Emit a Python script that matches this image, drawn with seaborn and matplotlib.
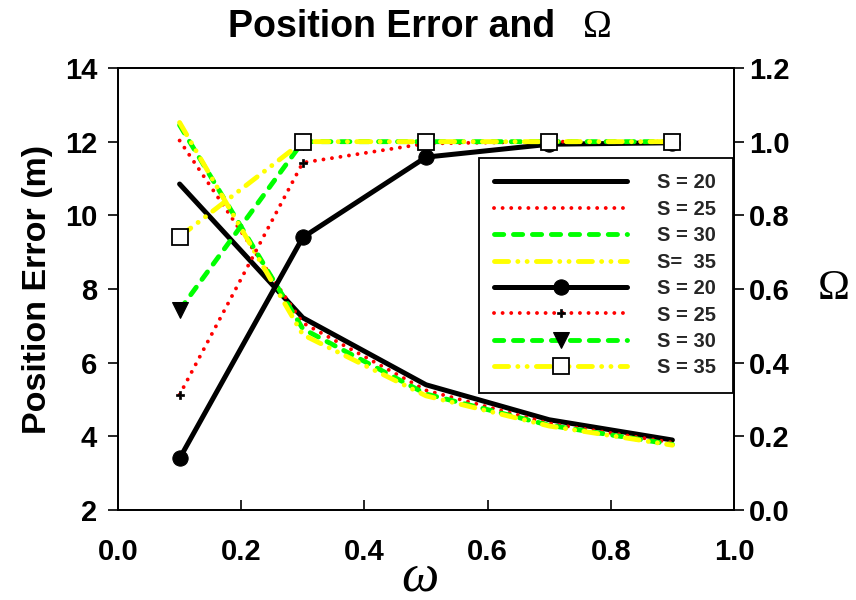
import matplotlib
matplotlib.use("Agg")
import matplotlib.pyplot as plt
import seaborn as sns
import numpy as np

# ---------------- data ----------------
omega = [0.1, 0.3, 0.5, 0.7, 0.9]

# Position error (left axis, m)
pe_s20 = [10.85, 7.22, 5.40, 4.45, 3.90]
pe_s25 = [12.03, 7.08, 5.25, 4.35, 3.83]
pe_s30 = [12.45, 6.92, 5.15, 4.30, 3.78]
pe_s35 = [12.52, 6.76, 5.10, 4.28, 3.76]

# Omega (right axis)
om_s20 = [0.14, 0.74, 0.958, 0.993, 0.997]
om_s25 = [0.313, 0.943, 0.995, 1.0, 1.0]
om_s30 = [0.543, 1.0, 1.0, 1.0, 1.0]
om_s35 = [0.742, 1.0, 1.0, 1.0, 1.0]

legend_labels = ["S = 20", "S = 25", "S = 30", "S=  35",
                 "S = 20", "S = 25", "S = 30", "S = 35"]

x_ticks = [0.0, 0.2, 0.4, 0.6, 0.8, 1.0]
x_ticklabels = ["0.0", "0.2", "0.4", "0.6", "0.8", "1.0"]
left_ticks = [2, 4, 6, 8, 10, 12, 14]
left_ticklabels = ["2", "4", "6", "8", "10", "12", "14"]
right_ticks = [0.0, 0.2, 0.4, 0.6, 0.8, 1.0, 1.2]
right_ticklabels = ["0.0", "0.2", "0.4", "0.6", "0.8", "1.0", "1.2"]

title_main = "Position Error and"
title_symbol = "Ω"
ylabel_left = "Position Error (m)"
ylabel_right = "Ω"
xlabel_text = "ω"

# ---------------- style ----------------
sns.set_theme(style="white")
plt.rcParams["font.family"] = ["Liberation Sans", "DejaVu Sans"]
plt.rcParams["font.weight"] = "bold"

RED = "#FF0000"
GREEN = "#00FF00"
YELLOW = "#FFFF00"
BLACK = "#000000"

fig = plt.figure(figsize=(8.56, 6.0), dpi=100)
ax = fig.add_axes([118 / 856, 90 / 600, 616 / 856, 442 / 600])
ax2 = ax.twinx()

ls_solid = "-"
ls_dot = (0, (0.01, 2.2))
ls_dash = (0, (1.9, 2.0))
ls_dashdotdot = (0, (2.9, 1.9, 0.01, 1.9, 0.01, 1.9))

common = dict(errorbar=None, legend=False, sort=False)

# left-axis curves
sns.lineplot(x=omega, y=pe_s20, ax=ax, color=BLACK, linewidth=3.6,
             linestyle=ls_solid, solid_capstyle="round", **common)
sns.lineplot(x=omega, y=pe_s25, ax=ax, color=RED, linewidth=2.8,
             linestyle=ls_dot, dash_capstyle="round", **common)
sns.lineplot(x=omega, y=pe_s30, ax=ax, color=GREEN, linewidth=3.5,
             linestyle=ls_dash, dash_capstyle="round", **common)
sns.lineplot(x=omega, y=pe_s35, ax=ax, color=YELLOW, linewidth=3.5,
             linestyle=ls_dashdotdot, dash_capstyle="round", **common)

# right-axis curves
sns.lineplot(x=omega, y=om_s20, ax=ax2, color=BLACK, linewidth=3.6,
             linestyle=ls_solid, solid_capstyle="round",
             marker="o", markersize=11, markerfacecolor=BLACK,
             markeredgecolor=BLACK, **common)
sns.lineplot(x=omega, y=om_s25, ax=ax2, color=RED, linewidth=2.8,
             linestyle=ls_dot, dash_capstyle="round",
             marker="P", markersize=6, markerfacecolor=BLACK,
             markeredgecolor=BLACK, markeredgewidth=0.5, **common)
sns.lineplot(x=omega, y=om_s30, ax=ax2, color=GREEN, linewidth=3.5,
             linestyle=ls_dash, dash_capstyle="round",
             marker="v", markersize=12, markerfacecolor=BLACK,
             markeredgecolor=BLACK, **common)
sns.lineplot(x=omega, y=om_s35, ax=ax2, color=YELLOW, linewidth=3.5,
             linestyle=ls_dashdotdot, dash_capstyle="round",
             marker="s", markersize=11, markerfacecolor="white",
             markeredgecolor=BLACK, markeredgewidth=1.3, **common)

# ---------------- axes ----------------
ax.set_xlim(0, 1.0)
ax.set_ylim(2, 14)
ax2.set_ylim(0, 1.2)

ax.set_xticks(x_ticks)
ax.set_xticklabels(x_ticklabels, fontsize=21, fontweight="bold")
ax.set_yticks(left_ticks)
ax.set_yticklabels(left_ticklabels, fontsize=21, fontweight="bold")
ax2.set_yticks(right_ticks)
ax2.set_yticklabels(right_ticklabels, fontsize=21, fontweight="bold")

ax.tick_params(axis="x", direction="in", length=7, width=1.2, pad=20,
               colors=BLACK, bottom=True, top=False)
ax.tick_params(axis="y", direction="out", length=7, width=1.2, pad=8,
               colors=BLACK, left=True, right=False)
ax2.tick_params(axis="y", direction="out", length=7, width=1.2, pad=4,
                colors=BLACK, right=True, left=False)

for a in (ax, ax2):
    for sp in a.spines.values():
        sp.set_visible(True)
        sp.set_color(BLACK)
        sp.set_linewidth(1.3)
    a.grid(False)
ax.set_facecolor("white")

ax.set_ylabel(ylabel_left, fontsize=24.5, fontweight="bold", color=BLACK)
ax.yaxis.set_label_coords(-0.105, 0.5)
ax2.set_ylabel(ylabel_right, fontsize=31, fontweight="normal",
               family=["Liberation Serif"], rotation=0, color=BLACK,
               va="center", ha="center")
ax2.yaxis.set_label_coords(1.162, 0.5)
ax.set_xlabel(xlabel_text, fontsize=38, fontweight="normal",
              family=["Liberation Serif"], style="italic", color=BLACK)
ax.xaxis.set_label_coords(0.49, -0.098)

# title: sans-serif bold part plus a serif Omega
fig.text(228 / 856, 1 - 37 / 600, title_main, fontsize=27,
         fontweight="bold", color=BLACK, ha="left", va="baseline")
fig.text(597 / 856, 1 - 37 / 600, title_symbol, fontsize=28,
         fontweight="normal", family=["Liberation Serif"], color=BLACK,
         ha="center", va="baseline")

# ---------------- legend ----------------
handles = list(ax.get_lines()) + list(ax2.get_lines())
leg = ax2.legend(handles, legend_labels, loc="upper left",
                 bbox_to_anchor=(0.586, 0.796, 0.412, 0.0), mode="expand",
                 prop={"weight": "bold", "size": 14.5},
                 frameon=True, fancybox=False, framealpha=1.0,
                 edgecolor=BLACK, handlelength=6.6, handletextpad=1.5,
                 labelspacing=0.37, borderpad=0.75, borderaxespad=0,
                 numpoints=1)
leg.get_frame().set_linewidth(1.3)

fig.savefig("out.png", dpi=100, facecolor="white")
